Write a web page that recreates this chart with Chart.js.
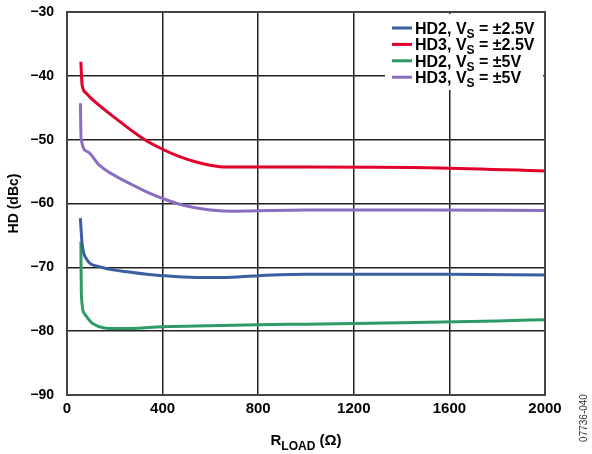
<!DOCTYPE html>
<html><head><meta charset="utf-8">
<script src="https://cdn.jsdelivr.net/npm/chart.js@4/dist/chart.umd.min.js"></script>
<style>html,body{margin:0;padding:0;background:#fff;}canvas{display:block;}</style>
</head><body>
<canvas id="c" width="592" height="454"></canvas>
<script>
// Data (R_LOAD in ohms, HD in dBc)
const hd2_25_x = [56, 63, 80, 135, 275, 400, 540, 650, 800, 1000, 1600, 2000];
const hd2_25_y = [-62.3, -66.2, -68.6, -69.9, -70.8, -71.3, -71.6, -71.6, -71.3, -71.1, -71.1, -71.2];
const hd3_25_x = [58, 63, 80, 100, 205, 317, 400, 460, 540, 598, 669, 1000, 1500, 2000];
const hd3_25_y = [-37.8, -41.4, -42.7, -43.5, -46.7, -49.8, -51.5, -52.5, -53.5, -54.0, -54.3, -54.3, -54.4, -54.9];
const hd2_5_x = [58, 60, 72, 107, 205, 260, 400, 540, 800, 1000, 1400, 1800, 2000];
const hd2_5_y = [-66.0, -74.1, -77.2, -78.8, -79.6, -79.6, -79.3, -79.2, -79.0, -78.9, -78.7, -78.4, -78.2];
const hd3_5_x = [56, 59, 87, 135, 275, 335, 400, 460, 526, 600, 700, 1000, 1500, 2000];
const hd3_5_y = [-44.3, -49.8, -51.9, -54.0, -57.1, -58.2, -59.2, -60.0, -60.6, -61.0, -61.2, -61.0, -61.0, -61.1];
const xTicks = [0, 400, 800, 1200, 1600, 2000];
const yTicks = [-90, -80, -70, -60, -50, -40, -30];
const seriesNames = [["HD2, V", "S", " = ±2.5V"], ["HD3, V", "S", " = ±2.5V"], ["HD2, V", "S", " = ±5V"], ["HD3, V", "S", " = ±5V"]];
const seriesColors = ["#3b5fa0", "#e2002b", "#2f9a66", "#8b6dc0"];

function pts(xs, ys) { return xs.map((x, i) => ({x: x, y: ys[i]})); }
const allData = [pts(hd2_25_x, hd2_25_y), pts(hd3_25_x, hd3_25_y), pts(hd2_5_x, hd2_5_y), pts(hd3_5_x, hd3_5_y)];

const FONT = "Liberation Sans, Arial, sans-serif";

const overlay = {
  id: 'overlay',
  afterDraw(chart) {
    const ctx = chart.ctx, a = chart.chartArea;
    ctx.save();
    // legend background
    ctx.fillStyle = '#fff';
    ctx.fillRect(385, a.top + 2, a.right - 387, 76);
    // frame
    ctx.strokeStyle = '#444'; ctx.lineWidth = 2;
    ctx.strokeRect(a.left, a.top, a.right - a.left, a.bottom - a.top);
    ctx.textBaseline = 'alphabetic';
    for (let i = 0; i < 4; i++) {
      const y = 28 + i * 16.4;
      ctx.strokeStyle = seriesColors[i]; ctx.lineWidth = 3;
      ctx.beginPath(); ctx.moveTo(392, y); ctx.lineTo(412, y); ctx.stroke();
      ctx.fillStyle = '#000';
      const p = seriesNames[i];
      let x = 415;
      ctx.font = 'bold 16px ' + FONT;
      ctx.fillText(p[0], x, y + 6); x += ctx.measureText(p[0]).width;
      ctx.font = 'bold 12px ' + FONT;
      ctx.fillText(p[1], x, y + 10); x += ctx.measureText(p[1]).width;
      ctx.font = 'bold 16px ' + FONT;
      ctx.fillText(p[2], x, y + 6);
    }
    // y title
    ctx.fillStyle = '#000';
    ctx.font = 'bold 14px ' + FONT;
    ctx.translate(18, (a.top + a.bottom) / 2);
    ctx.rotate(-Math.PI / 2);
    ctx.textAlign = 'center';
    ctx.fillText('HD (dBc)', 0, 0);
    ctx.setTransform(1, 0, 0, 1, 0, 0);
    // x title with subscript
    const cx = (a.left + a.right) / 2;
    ctx.textAlign = 'left';
    ctx.font = 'bold 15px ' + FONT;
    const w1 = ctx.measureText('R').width;
    ctx.font = 'bold 12px ' + FONT;
    const w2 = ctx.measureText('LOAD').width;
    ctx.font = 'bold 15px ' + FONT;
    const w3 = ctx.measureText(' (Ω)').width;
    let x0 = cx - (w1 + w2 + w3) / 2;
    ctx.fillText('R', x0, 445);
    ctx.font = 'bold 12px ' + FONT;
    ctx.fillText('LOAD', x0 + w1, 450);
    ctx.font = 'bold 15px ' + FONT;
    ctx.fillText(' (Ω)', x0 + w1 + w2, 445);
    // side code
    ctx.font = '10px ' + FONT;
    ctx.fillStyle = '#333';
    ctx.translate(587, 418);
    ctx.rotate(-Math.PI / 2);
    ctx.textAlign = 'center';
    ctx.fillText('07736-040', 0, 0);
    ctx.restore();
  }
};

new Chart(document.getElementById('c'), {
  type: 'line',
  data: {
    datasets: allData.map((d, i) => ({
      data: d,
      borderColor: seriesColors[i],
      borderWidth: 3,
      pointRadius: 0,
      fill: false,
      cubicInterpolationMode: 'monotone'
    }))
  },
  options: {
    responsive: false,
    animation: false,
    devicePixelRatio: 1,
    layout: {padding: {top: 12, right: 47, left: 0, bottom: 0}},
    plugins: {legend: {display: false}, tooltip: {enabled: false}},
    scales: {
      x: {
        type: 'linear', min: 0, max: 2000,
        afterBuildTicks: s => { s.ticks = xTicks.map(v => ({value: v})); },
        afterFit: s => { s.height = 59; s.paddingLeft = 0; s.paddingRight = 0; },
        grid: {color: '#222', lineWidth: 1.5, drawTicks: false},
        border: {display: false},
        ticks: {padding: 5, color: '#000', font: {family: FONT, size: 15, weight: 'bold'}, maxRotation: 0,
          callback: v => String(v)}
      },
      y: {
        type: 'linear', min: -90, max: -30,
        afterBuildTicks: s => { s.ticks = yTicks.map(v => ({value: v})); },
        afterFit: s => { s.width = 67; s.paddingTop = 0; s.paddingBottom = 0; },
        grid: {color: '#222', lineWidth: 1.5, drawTicks: false},
        border: {display: false},
        ticks: {padding: 13, color: '#000', font: {family: FONT, size: 14, weight: 'bold'},
          callback: v => String(v).replace('-', '\u2212')}
      }
    }
  },
  plugins: [overlay]
});
</script>
</body></html>
